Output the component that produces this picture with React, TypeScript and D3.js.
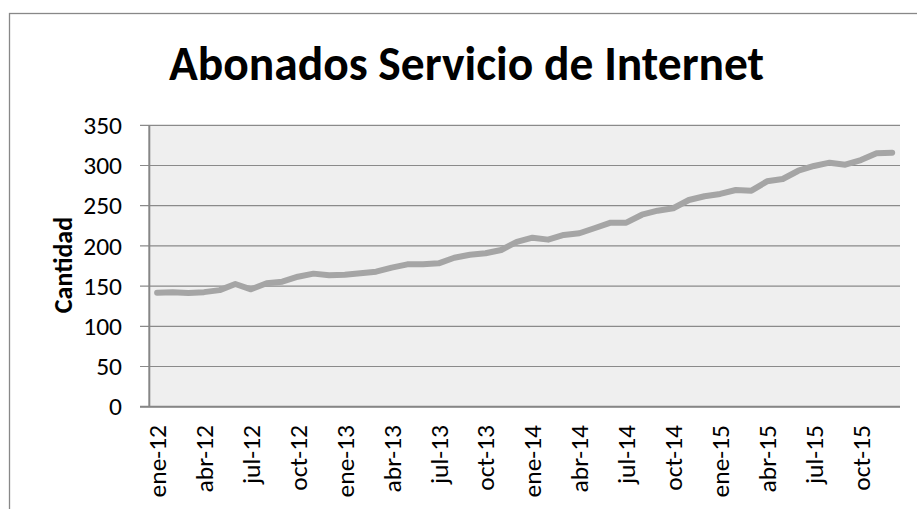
import React from 'react';
import * as d3 from 'd3';

const categories: string[] = [
  'ene-12','feb-12','mar-12','abr-12','may-12','jun-12','jul-12','ago-12','sep-12','oct-12','nov-12','dic-12',
  'ene-13','feb-13','mar-13','abr-13','may-13','jun-13','jul-13','ago-13','sep-13','oct-13','nov-13','dic-13',
  'ene-14','feb-14','mar-14','abr-14','may-14','jun-14','jul-14','ago-14','sep-14','oct-14','nov-14','dic-14',
  'ene-15','feb-15','mar-15','abr-15','may-15','jun-15','jul-15','ago-15','sep-15','oct-15','nov-15','dic-15',
];

const abonados: number[] = [
  141.8, 142.3, 141.4, 142.5, 145.0, 152.6, 146.0, 153.5, 155.5, 161.7, 165.5, 163.4,
  164.2, 165.9, 167.9, 172.9, 177.1, 177.1, 178.3, 185.3, 189.0, 190.8, 194.9, 205.0,
  210.2, 207.8, 213.6, 215.7, 222.3, 228.9, 228.9, 238.8, 243.8, 246.8, 257.1, 261.7,
  264.6, 269.5, 268.7, 280.3, 283.2, 293.5, 299.4, 303.5, 301.0, 306.8, 315.2, 316.0,
];

const tickLabels: string[] = [
  'ene-12','abr-12','jul-12','oct-12','ene-13','abr-13','jul-13','oct-13',
  'ene-14','abr-14','jul-14','oct-14','ene-15','abr-15','jul-15','oct-15',
];

const yTicks: number[] = [0, 50, 100, 150, 200, 250, 300, 350];

const title = 'Abonados Servicio de Internet';
const yAxisTitle = 'Cantidad';

const FONT = 'Carlito, Calibri, Lato, "Open Sans", sans-serif';

export default function App() {
  const W = 917;
  const H = 509;
  const plotL = 149.3;
  const plotR = 900;
  const plotT = 125.3;
  const plotB = 406.7;

  const x = d3.scaleBand<string>().domain(categories).range([plotL, plotR]).paddingInner(0).paddingOuter(0);
  const y = d3.scaleLinear().domain([0, 350]).range([plotB, plotT]);
  const cx = (c: string) => (x(c) as number) + x.bandwidth() / 2;

  const line = d3
    .line<number>()
    .x((_, i) => cx(categories[i]))
    .y((d) => y(d));

  return (
    <svg
      width={W}
      height={H}
      style={{ position: 'fixed', left: 0, top: 0, display: 'block', background: '#fff' }}
      fontFamily={FONT}
    >
      <rect x={9.5} y={13.5} width={W + 20} height={H + 20} fill="#fff" stroke="#888" strokeWidth={1.3} />
      <text x={466.5} y={80} textAnchor="middle" fontWeight="bold" fontSize={47.5} fill="#000">
        {title}
      </text>
      <rect x={plotL} y={plotT} width={plotR - plotL} height={plotB - plotT} fill="#efefef" />
      {yTicks.map((t) => (
        <g key={t}>
          <line x1={140} x2={plotR} y1={y(t)} y2={y(t)} stroke="#8a8a8a" strokeWidth={1.2} />
          <text x={122} y={y(t)} dy="0.34em" textAnchor="end" fontSize={25.5} fill="#000">
            {t}
          </text>
        </g>
      ))}
      <line x1={plotL} x2={plotL} y1={plotT} y2={plotB} stroke="#868686" strokeWidth={2} />
      <line x1={140} x2={plotR} y1={plotB} y2={plotB} stroke="#868686" strokeWidth={2} />
      {tickLabels.map((c) => (
        <text
          key={c}
          transform={`translate(${cx(c)},${425}) rotate(-90)`}
          dy="0.35em"
          textAnchor="end"
          fontSize={25.5}
          fill="#000"
        >
          {c}
        </text>
      ))}
      <text
        transform={`translate(72,265) rotate(-90)`}
        textAnchor="middle"
        fontWeight="bold"
        fontSize={26}
        fill="#000"
      >
        {yAxisTitle}
      </text>
      <path
        d={line(abonados) || ''}
        fill="none"
        stroke="#a5a5a5"
        strokeWidth={6}
        strokeLinejoin="round"
        strokeLinecap="round"
      />
    </svg>
  );
}
